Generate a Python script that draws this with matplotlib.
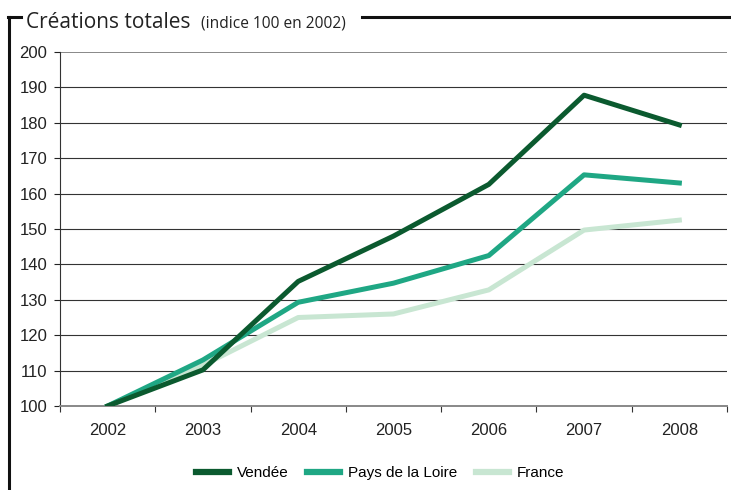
import matplotlib.pyplot as plt
import numpy as np
from matplotlib.lines import Line2D

years = ['2002', '2003', '2004', '2005', '2006', '2007', '2008']
vendee = [100, 110.2, 135.2, 148, 162.6, 187.8, 179.4]
pays_loire = [100, 113, 129.3, 134.7, 142.5, 165.3, 163]
france = [100, 111.5, 125, 126, 132.8, 149.7, 152.5]

c_vendee = '#0b5a2f'
c_pdl = '#1fa784'
c_fr = '#c8e6d2'

plt.rcParams['font.family'] = ['Liberation Sans', 'DejaVu Sans']

fig = plt.figure(figsize=(7.31, 4.90), dpi=100)
ax = fig.add_axes([60 / 731, 1 - 406 / 490, 667 / 731, 354 / 490])

x = np.arange(len(years))
ax.plot(x, france, color=c_fr, lw=3.6, label='France', zorder=3)
ax.plot(x, pays_loire, color=c_pdl, lw=3.6, label='Pays de la Loire', zorder=4)
ax.plot(x, vendee, color=c_vendee, lw=3.6, label='Vendée', zorder=5)

ax.set_xlim(-0.5, 6.5)
ax.set_ylim(100, 200)
ax.set_yticks(np.arange(100, 201, 10))
ax.set_xticks(x)
ax.set_xticklabels(years)
ax.set_xticks(np.arange(-0.5, 7, 1), minor=True)
ax.tick_params(axis='x', which='major', length=0, pad=12, labelsize=12, colors='#222222')
ax.tick_params(axis='x', which='minor', length=4, color='#333333', width=0.8)
ax.tick_params(axis='y', length=4, width=0.8, pad=5, labelsize=12, colors='#222222')

for v in range(110, 200, 10):
    ax.axhline(v, color='#333333', lw=0.8, zorder=1)
ax.axhline(200, color='#888888', lw=1.4, zorder=1)

for s in ['top', 'right']:
    ax.spines[s].set_visible(False)
ax.spines['left'].set_color('#333333')
ax.spines['left'].set_linewidth(0.8)
ax.spines['bottom'].set_color('#888888')
ax.spines['bottom'].set_linewidth(1.4)

# cadre du titre
fig.add_artist(Line2D([9 / 731, 9 / 731], [0, 1 - 17 / 490], color='#111111', lw=2.2))
fig.add_artist(Line2D([8 / 731, 21 / 731], [1 - 17 / 490, 1 - 17 / 490], color='#111111', lw=2.2))
fig.add_artist(Line2D([362 / 731, 1], [1 - 17 / 490, 1 - 17 / 490], color='#111111', lw=2.2))

fig.text(26 / 731, 1 - 28 / 490, 'Créations totales', fontsize=15, family=['Open Sans', 'DejaVu Sans'],
         color='#222222', va='baseline')
fig.text(201 / 731, 1 - 28 / 490, '(indice 100 en 2002)', fontsize=11.2, family=['Open Sans', 'DejaVu Sans'],
         color='#222222', va='baseline')

handles = [Line2D([], [], color=c_vendee, lw=4.5),
           Line2D([], [], color=c_pdl, lw=4.5),
           Line2D([], [], color=c_fr, lw=4.5)]
fig.legend(handles, ['Vendée', 'Pays de la Loire', 'France'], loc='center',
           bbox_to_anchor=(380 / 731, 1 - 473 / 490), ncol=3, frameon=False,
           fontsize=11, handlelength=2.2, columnspacing=1.2, handletextpad=0.5)

fig.savefig('out.png', dpi=100)
